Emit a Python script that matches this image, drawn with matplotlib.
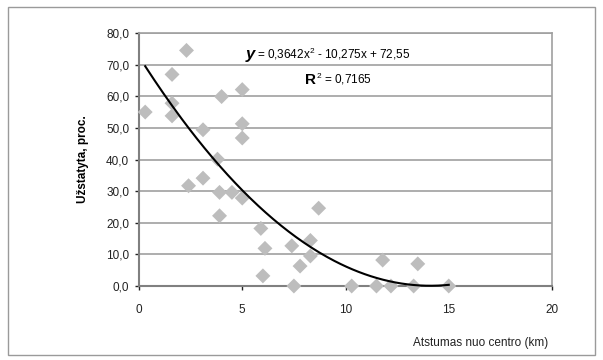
import numpy as np
import matplotlib
matplotlib.use("Agg")
import matplotlib.pyplot as plt
from matplotlib.patches import Rectangle

plt.rcParams['font.family'] = ['Liberation Sans', 'DejaVu Sans']
plt.rcParams['mathtext.fontset'] = 'custom'
plt.rcParams['mathtext.rm'] = 'Liberation Sans'
plt.rcParams['mathtext.it'] = 'Liberation Sans:italic'
plt.rcParams['mathtext.bf'] = 'Liberation Sans:bold'

# distance from centre (km) and built-up share (%)
distance = [0.3, 2.3, 1.6, 1.6, 1.6, 3.1, 4.0, 5.0, 5.0, 5.0, 3.8, 2.4, 3.1,
            3.9, 4.5, 5.0, 3.9, 8.7, 5.9, 6.1, 6.0, 7.4, 8.3, 8.3, 7.8, 7.5,
            10.3, 11.5, 11.8, 12.2, 13.3, 13.5, 15.0]
built_up = [55.0, 74.5, 66.9, 57.8, 53.8, 49.4, 59.9, 62.1, 51.3, 46.8, 40.1,
            31.7, 34.1, 29.6, 29.6, 27.8, 22.2, 24.6, 18.2, 11.9, 3.2, 12.7,
            14.4, 9.5, 6.3, 0.0, 0.0, 0.0, 8.2, 0.0, 0.0, 7.0, 0.0]

# trendline coefficients as printed on the chart
coef = [0.3642, -10.275, 72.55]

W, H = 603, 360
fig = plt.figure(figsize=(W / 100, H / 100), dpi=100)
fig.patches.append(Rectangle((8 / W, 5 / H), 587 / W, 348 / H, transform=fig.transFigure,
                             fill=False, edgecolor='#9a9a9a', linewidth=1))

ax = fig.add_axes([139 / W, 1 - 286 / H, 413 / W, 253 / H])
ax.set_xlim(0, 20)
ax.set_ylim(0, 80)

ax.scatter(distance, built_up, marker='D', s=58, color='#bdbdbd', edgecolors='none',
           zorder=4, clip_on=False)

xs = np.linspace(min(distance), max(distance), 200)
ys = np.clip(np.polyval(coef, xs), 0, None)
ax.plot(xs, ys, color='black', linewidth=1.5, zorder=5, clip_on=False)

ax.set_xticks([0, 5, 10, 15, 20])
ax.set_yticks(np.arange(0, 81, 10))
ax.set_yticklabels([f"{v:.1f}".replace('.', ',') for v in np.arange(0, 81, 10)])
ax.yaxis.grid(True, color='#a0a0a0', linewidth=1.2)
ax.set_axisbelow(True)
ax.tick_params(labelsize=8.5, colors='#222222', length=3, width=1, pad=4)
ax.tick_params(axis='x', pad=10)
for side in ['left', 'bottom']:
    ax.spines[side].set_color('#808080')
    ax.spines[side].set_linewidth(1.5)
ax.spines['right'].set_color('#a0a0a0')
ax.spines['right'].set_linewidth(1.2)
ax.spines['top'].set_color('#a0a0a0')
ax.spines['top'].set_linewidth(1.2)

ax.set_ylabel('Užstatyta, proc.', fontsize=8.5, fontweight='bold', labelpad=12)
fig.text(548 / W, 1 - 343 / H, 'Atstumas nuo centro (km)', fontsize=8.5,
         ha='right', va='center', color='#222222')

fig.text(246 / W, 1 - 55 / H, 'y', fontsize=12, fontweight='bold', style='italic',
         ha='left', va='center')
fig.text(257 / W, 1 - 54 / H, '= 0,3642x$^2$ - 10,275x + 72,55', fontsize=8.5,
         ha='left', va='center')
fig.text(305 / W, 1 - 80 / H, 'R', fontsize=11, fontweight='bold', ha='left', va='center')
fig.text(316 / W, 1 - 79 / H, '$^2$ = 0,7165', fontsize=8.5, ha='left', va='center')

fig.savefig('out.png', dpi=100)
